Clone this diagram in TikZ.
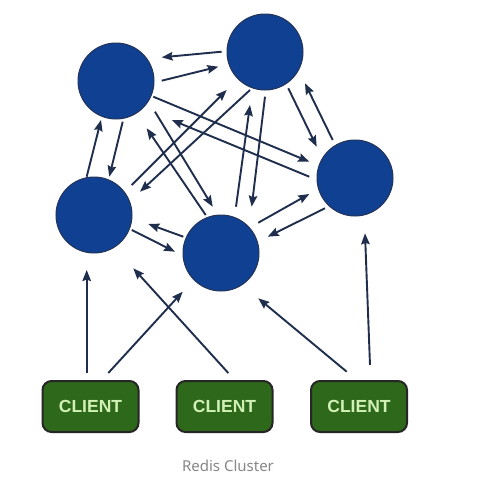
\documentclass[tikz,border=0pt]{standalone}
\usepackage{fontspec}
\setmainfont{Liberation Sans}
\newfontfamily\capfont{Noto Sans}
\usetikzlibrary{arrows.meta,calc}
\definecolor{nodeblue}{RGB}{16,64,145}
\definecolor{nodeedge}{RGB}{36,52,88}
\definecolor{arrowc}{RGB}{30,46,76}
\definecolor{clientfill}{RGB}{46,104,26}
\definecolor{clienttext}{RGB}{208,240,182}
\definecolor{captiongray}{RGB}{135,135,135}
\tikzset{
  server/.style={circle, fill=nodeblue, draw=nodeedge, line width=1pt, minimum size=76pt, inner sep=0pt},
  client/.style={rounded corners=9pt, fill=clientfill, draw=black!85, line width=2pt, minimum width=96pt, minimum height=51pt, inner sep=0pt, text=clienttext, font=\fontsize{17.5}{20}\selectfont\bfseries},
  arr/.style={draw=arrowc, line width=1.9pt, -{Stealth[length=11pt,width=8.5pt,inset=1.5pt]}},
}
\begin{document}
\begin{tikzpicture}[x=1pt,y=-1pt]
\useasboundingbox[fill=white] (0,0) rectangle (479,504);
% servers
\node[server] (A) at (116,81) {};
\node[server] (B) at (265,52) {};
\node[server] (C) at (355,178) {};
\node[server] (D) at (94,215) {};
\node[server] (E) at (221,253) {};
% clients
\node[client] (K1) at (90.5,406.5) {CLIENT};
\node[client] (K2) at (224.5,406.5) {CLIENT};
\node[client] (K3) at (359,406.5) {CLIENT};
% caption
\node[text=captiongray, font=\capfont\fontsize{15}{18}\selectfont] (cap) at (228,466) {Redis Cluster};
% server-server arrows
\draw[arr] ($(B)+(-43.3,-0.3)$) -- ($(A)+(45.7,-23.7)$);
\draw[arr] ($(A)+(45.7,-0.3)$) -- ($(B)+(-46.7,14.7)$);
\draw[arr] ($(D)+(-7.3,-38.3)$) -- ($(A)+(-15,39)$);
\draw[arr] ($(A)+(6.7,40.7)$) -- ($(D)+(15.3,-38.3)$);
\draw[arr] ($(A)+(37.3,15.7)$) -- ($(C)+(-45.7,-16.3)$);
\draw[arr] ($(C)+(-45.7,-1.3)$) -- ($(A)+(55.7,39)$);
\draw[arr] ($(A)+(39,30.7)$) -- ($(E)+(-8.3,-46.3)$);
\draw[arr] ($(E)+(-15.3,-38)$) -- ($(A)+(30.7,47.3)$);
\draw[arr] ($(D)+(37.7,-30)$) -- ($(B)+(-38.3,38)$);
\draw[arr] ($(B)+(-15,38)$) -- ($(D)+(46,-23.3)$);
\draw[arr] ($(E)+(15,-46.3)$) -- ($(B)+(-15,53)$);
\draw[arr] ($(B)+(0,44.7)$) -- ($(E)+(30.7,-46.3)$);
\draw[arr] ($(B)+(23.3,36.3)$) -- ($(C)+(-38.3,-31.3)$);
\draw[arr] ($(C)+(-22.3,-38)$) -- ($(B)+(40,31.3)$);
\draw[arr] ($(E)+(37.3,-30.3)$) -- ($(C)+(-45.7,16)$);
\draw[arr] ($(C)+(-30,30.3)$) -- ($(E)+(46.7,-16.3)$);
\draw[arr] ($(E)+(-37.7,-16.3)$) -- ($(D)+(54.3,9)$);
\draw[arr] ($(D)+(37.7,15)$) -- ($(E)+(-46,-1.3)$);
% client arrows
\draw[arr] ($(K1)+(-3.8,-33.5)$) -- ($(D)+(-7.3,55)$);
\draw[arr] ($(K1)+(17.8,-33.5)$) -- ($(E)+(-38.3,38.7)$);
\draw[arr] ($(K2)+(3.8,-33.5)$) -- ($(D)+(39.3,53.3)$);
\draw[arr] ($(K3)+(-12.3,-34.8)$) -- ($(E)+(37.3,45.3)$);
\draw[arr] ($(K3)+(11,-41.5)$) -- ($(C)+(10,55.3)$);
\end{tikzpicture}
\end{document}
